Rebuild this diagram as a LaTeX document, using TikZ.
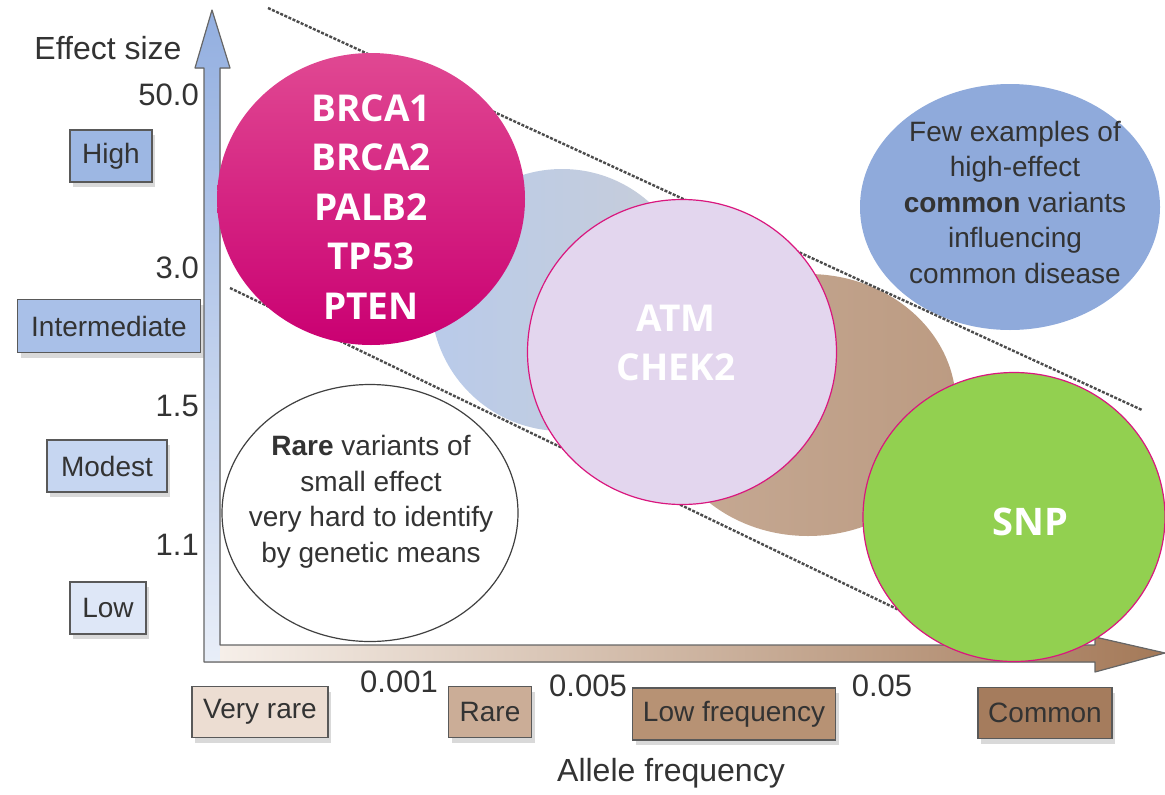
\documentclass[tikz,border=0pt]{standalone}
\usepackage{fontspec}
\setmainfont{Liberation Sans}
\newfontfamily\genefont{Open Sans}
\usetikzlibrary{shapes.geometric, shadows}

\definecolor{axisblue}{HTML}{93AFE0}
\definecolor{axispale}{HTML}{E8EEF8}
\definecolor{axisbrown}{HTML}{A47958}
\definecolor{axissand}{HTML}{F6EFE9}
\definecolor{highblue}{HTML}{9DB7E3}
\definecolor{interblue}{HTML}{A9C0E8}
\definecolor{modestblue}{HTML}{C6D6F1}
\definecolor{lowblue}{HTML}{DEE7F7}
\definecolor{veryrare}{HTML}{ECDDD2}
\definecolor{rarebrown}{HTML}{CBAD97}
\definecolor{lowfreq}{HTML}{B79274}
\definecolor{common}{HTML}{A57C5D}
\definecolor{commonblue}{HTML}{8FAADB}
\definecolor{midbrown}{HTML}{BC9B82}
\definecolor{geneedge}{HTML}{D9177E}
\definecolor{genetop}{HTML}{E04892}
\definecolor{genemid}{HTML}{DC0A80}
\definecolor{genebot}{HTML}{CA0072}
\definecolor{lavender}{HTML}{E3D6EE}
\definecolor{snpgreen}{HTML}{92D050}
\definecolor{zoneblue}{HTML}{B9CBEA}
\definecolor{zonegrey}{HTML}{C8CDD8}

\tikzset{
  levelbox/.style={draw=black!65, line width=1.3pt, inner sep=0pt, text=black!80,
    font=\fontsize{28}{30}\selectfont,
    drop shadow={shadow xshift=3pt, shadow yshift=-5pt, opacity=.3}},
  ticklabel/.style={inner sep=0pt, text=black!80, font=\fontsize{31}{33}\selectfont},
  bubble/.style={ellipse, inner sep=0pt, align=center, text=black!80,
    font=\fontsize{28}{35.5}\selectfont},
  genecircle/.style={ellipse, inner sep=0pt, align=center, draw=geneedge, line width=1.2pt,
    text=white, font=\genefont\bfseries\fontsize{37}{49.5}\selectfont},
  bounds/.style={black!70, line width=2.4pt, dash pattern=on 3pt off 1.5pt}
}

\begin{document}
\begin{tikzpicture}[x=1pt, y=-1pt]
	\useasboundingbox (0,0) rectangle (1165,795);

	% axes
	\begin{scope}
		\fill[bottom color=axispale, top color=axisblue]
			(204,662) -- (204,68) -- (195,68) -- (212,10) -- (230,68) -- (220,68) -- (220,662) -- cycle;
		\fill[left color=axissand, right color=axisbrown]
			(220,645) -- (1095,645) -- (1095,637) -- (1165,653) -- (1095,672) -- (1095,662) -- (220,662) -- cycle;
		\draw[black!60, line width=1.2pt, line join=round]
			(204,662) -- (204,68) -- (195,68) -- (212,10) -- (230,68) -- (220,68) -- (220,645)
			-- (1095,645) -- (1095,637) -- (1165,653) -- (1095,672) -- (1095,662) -- cycle;
	\end{scope}

	% original regions
	\begin{scope}
		\node[ellipse, minimum width=262pt, minimum height=262pt, left color=zoneblue, right color=zonegrey]
			(highzone) at (562,300) {};
		\node[ellipse, minimum width=296pt, minimum height=262pt, left color=midbrown!85, right color=midbrown]
			(lowzone) at (808,405) {};
		\node[bubble, fill=commonblue, minimum width=300pt, minimum height=246pt]
			(fewcommon) at (1010,207) {};
		\node[bubble] (fewtext) at (1015,202)
			{Few examples of\\high-effect\\\textbf{common} variants\\influencing\\common disease};
		\node[ellipse, draw=black!75, line width=1.2pt, fill=white, minimum width=296pt, minimum height=257pt]
			(rarezone) at (370,513) {};
		\node[bubble] (raretext) at (371,502)
			{\textbf{Rare} variants of\\small effect\\very hard to identify\\by genetic means};
	\end{scope}

	% dashed limits
	\coordinate (uplimA) at (268,8);
	\coordinate (uplimB) at (1142,410);
	\coordinate (lowlimA) at (230,288);
	\coordinate (lowlimB) at (980,649);
	\draw[bounds] (uplimA) -- (uplimB);
	\draw[bounds] (lowlimA) -- (lowlimB);

	% genes
	\node[genecircle, draw=none, top color=genetop, middle color=genemid, bottom color=genebot,
		minimum width=308pt, minimum height=292pt]
		(highgenes) at (371,199) {};
	\node[text=white, align=center, font=\genefont\bfseries\fontsize{37}{49.5}\selectfont]
		(highnames) at (371,207) {BRCA1\\BRCA2\\PALB2\\TP53\\PTEN};
	\node[genecircle, fill=lavender, minimum width=309pt, minimum height=305pt]
		(midgenes) at (682,352) {};
	\node[text=white, align=center, font=\genefont\bfseries\fontsize{37}{49.5}\selectfont]
		(midnames) at (676,343) {ATM\\CHEK2};
	\node[genecircle, fill=snpgreen, minimum width=302pt, minimum height=289pt]
		(snp) at (1014,517) {};
	\node[text=white, font=\genefont\bfseries\fontsize{38}{40}\selectfont]
		(snpname) at (1030,522) {SNP};

	% axis titles and values
	\node[ticklabel, font=\fontsize{32}{34}\selectfont] (ytitle) at (108,48) {Effect size};
	\node[ticklabel, font=\fontsize{32}{34}\selectfont] (xtitle) at (671,773) {Allele frequency};
	\foreach \val/\ypos in {50.0/95, 3.0/268, 1.5/406, 1.1/545}
	{
		\node[ticklabel, anchor=east] (ytick\ypos) at (199,\ypos) {\val};
	}
	\foreach \val/\xpos/\ypos in {0.001/399/682, 0.005/588/686, 0.05/882/686}
	{
		\node[ticklabel] (xtick\xpos) at (\xpos,\ypos) {\val};
	}

	% effect levels
	\node[levelbox, fill=highblue, minimum width=82pt, minimum height=52pt] (high) at (111,156) {High};
	\node[levelbox, fill=interblue, minimum width=183pt, minimum height=53pt] (inter) at (109,326) {Intermediate};
	\node[levelbox, fill=modestblue, minimum width=120pt, minimum height=52pt] (modest) at (107,466) {Modest};
	\node[levelbox, fill=lowblue, minimum width=76pt, minimum height=52pt] (low) at (108,608) {Low};

	% frequency classes
	\node[levelbox, fill=veryrare, minimum width=136pt, minimum height=51pt] (vrare) at (260,712) {Very rare};
	\node[levelbox, fill=rarebrown, minimum width=83pt, minimum height=51pt] (rare) at (490,712) {Rare};
	\node[levelbox, fill=lowfreq, minimum width=203pt, minimum height=52pt] (lowf) at (734,714) {Low frequency};
	\node[levelbox, fill=common, minimum width=134pt, minimum height=51pt] (comm) at (1045,713) {Common};
\end{tikzpicture}
\end{document}
